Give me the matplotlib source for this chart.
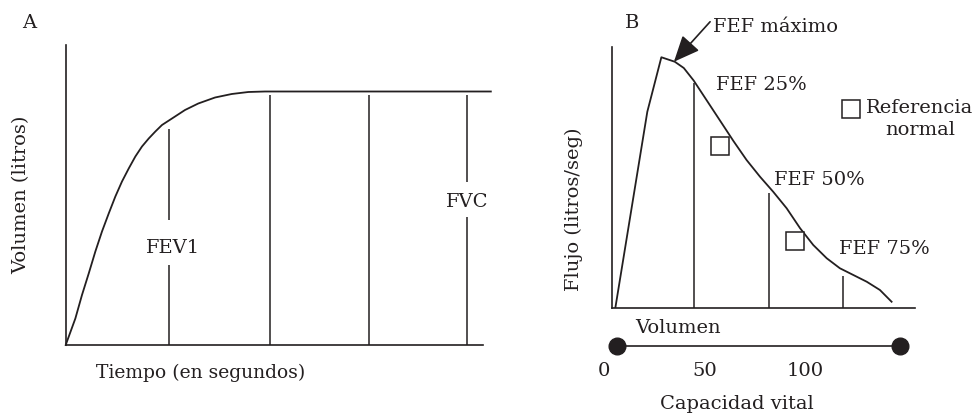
import numpy as np
import matplotlib
matplotlib.use('Agg')
import matplotlib.pyplot as plt

plt.rcParams['font.family'] = ['DejaVu Serif']
plt.rcParams['font.size'] = 14

INK = '#231f20'

# --- panel A: volumen-tiempo
t_curve = [0, 0.096, 0.162, 0.229, 0.295, 0.361, 0.428, 0.494, 0.56, 0.627, 0.693,
           0.759, 0.826, 0.892, 0.958, 1.088, 1.187, 1.319, 1.486, 1.652, 1.817,
           1.983, 4.23]
v_curve = [0, 0.53, 1.0, 1.43, 1.87, 2.27, 2.63, 2.97, 3.27, 3.53, 3.77,
           3.97, 4.13, 4.27, 4.40, 4.57, 4.70, 4.83, 4.95, 5.02, 5.06,
           5.07, 5.07]
t_lines = [1.03, 2.03, 3.02, 3.99]
v_lines_top = [4.33, 5.01, 5.01, 5.01]
fev1_gap = (1.6, 2.5)
fvc_gap = (2.56, 3.26)

# --- panel B: flujo-volumen
x_flow = [-0.9, 9.8, 14.5, 19.0, 22.0, 25.3, 29.7, 34.1, 38.6, 43.0, 47.5, 51.9,
          56.4, 60.9, 65.3, 69.8, 74.2, 78.7, 83.2, 87.6, 91.5]
y_flow = [0, 7.85, 10.03, 9.85, 9.6, 9.1, 8.3, 7.5, 6.68, 5.92, 5.25, 4.65,
          3.99, 3.19, 2.52, 1.99, 1.59, 1.32, 1.05, 0.72, 0.25]
fef_x = [25.3, 50.5, 75.3]
fef_top = [9.0, 4.6, 1.3]
fef_labels = ['FEF 25%', 'FEF 50%', 'FEF 75%']
ref_x = [34.2, 59.3]
ref_y = [6.48, 2.68]

# --- capacidad vital
cap_ticks = [0, 50, 100]
cap_ends = [6.3, 147.3]

fig = plt.figure(figsize=(9.73, 4.17), dpi=100)
W, H = 973, 417


def px_axes(x0, y0, x1, y1):
    return fig.add_axes([x0 / W, 1 - y1 / H, (x1 - x0) / W, (y1 - y0) / H])


# ---------------- A
axA = px_axes(65.7, 45, 483, 345)
axA.set_xlim(0, 4.152)
axA.set_ylim(0, 6.0)
for s in ['top', 'right']:
    axA.spines[s].set_visible(False)
for s in ['left', 'bottom']:
    axA.spines[s].set_color(INK)
    axA.spines[s].set_linewidth(1.2)
axA.set_xticks([])
axA.set_yticks([])
axA.plot(t_curve, v_curve, color=INK, lw=1.3, clip_on=False)
for i, (t, top) in enumerate(zip(t_lines, v_lines_top)):
    if i == 0:
        axA.vlines([t, t], [0, fev1_gap[1]], [fev1_gap[0], top], color=INK, lw=1.1)
    elif i == 3:
        axA.vlines([t, t], [0, fvc_gap[1]], [fvc_gap[0], top], color=INK, lw=1.1)
    else:
        axA.vlines(t, 0, top, color=INK, lw=1.1)
axA.text(1.07, 1.94, 'FEV1', ha='center', va='center', color=INK)
axA.text(3.99, 2.86, 'FVC', ha='center', va='center', color=INK)
axA.text(-0.365, 6.44, 'A', ha='center', va='center', color=INK, clip_on=False)
axA.text(-0.107, 0.5, 'Volumen (litros)', rotation=90, ha='center', va='center',
         color=INK, transform=axA.transAxes)
axA.text(0.324, -0.093, 'Tiempo (en segundos)', ha='center', va='center',
         color=INK, fontsize=13.5, transform=axA.transAxes)

# ---------------- B
axB = px_axes(612.3, 47, 915, 308)
axB.set_xlim(-1.91, 99.33)
axB.set_ylim(0, 10.44)
for s in ['top', 'right']:
    axB.spines[s].set_visible(False)
for s in ['left', 'bottom']:
    axB.spines[s].set_color(INK)
    axB.spines[s].set_linewidth(1.2)
axB.set_xticks([])
axB.set_yticks([])
axB.plot(x_flow, y_flow, color=INK, lw=1.3)
axB.vlines(fef_x, 0, fef_top, color=INK, lw=1.1)
axB.plot(ref_x, ref_y, 's', ms=13.5, mfc='white', mec=INK, mew=1.1)
axB.plot([78.0], [7.98], 's', ms=13.5, mfc='white', mec=INK, mew=1.1)
axB.text(101.0, 7.56, 'Referencia\nnormal', ha='center', va='center',
         multialignment='center', linespacing=1.3, color=INK, clip_on=False)
for xl, yl, lab in zip([32.8, 52.2, 73.9], [8.92, 5.12, 2.36], fef_labels):
    axB.text(xl, yl, lab, ha='left', va='center', color=INK)
axB.annotate('', xy=(18.7, 9.85), xytext=(30.8, 11.45), annotation_clip=False,
             arrowprops=dict(arrowstyle='-|>,head_length=0.8,head_width=0.35',
                             color=INK, lw=1.2, mutation_scale=20,
                             shrinkA=0, shrinkB=0))
axB.text(31.8, 11.24, 'FEF máximo', ha='left', va='center', color=INK)
axB.text(4.6, 11.4, 'B', ha='center', va='center', color=INK)
axB.text(-0.126, 0.38, 'Flujo (litros/seg)', rotation=90, ha='center', va='center',
         color=INK, transform=axB.transAxes)
axB.text(5.7, -0.8, 'Volumen', ha='left', va='center', color=INK)

# ---------------- capacidad vital
axC = px_axes(590, 335, 915, 356.4)
axC.set_xlim(-6.97, 154.7)
axC.set_ylim(-1, 1)
for s in axC.spines.values():
    s.set_visible(False)
axC.set_yticks([])
axC.set_xticks(cap_ticks)
axC.set_xticklabels([str(c) for c in cap_ticks], color=INK)
axC.tick_params(axis='x', length=0, pad=4)
axC.plot(cap_ends, [0, 0], color=INK, lw=1.2, marker='o', ms=12, mfc=INK, mec=INK)
axC.set_xlabel('Capacidad vital', color=INK)
axC.xaxis.set_label_coords((736.7 - 590) / 325, -1.8)

fig.savefig('out.png', dpi=100)
